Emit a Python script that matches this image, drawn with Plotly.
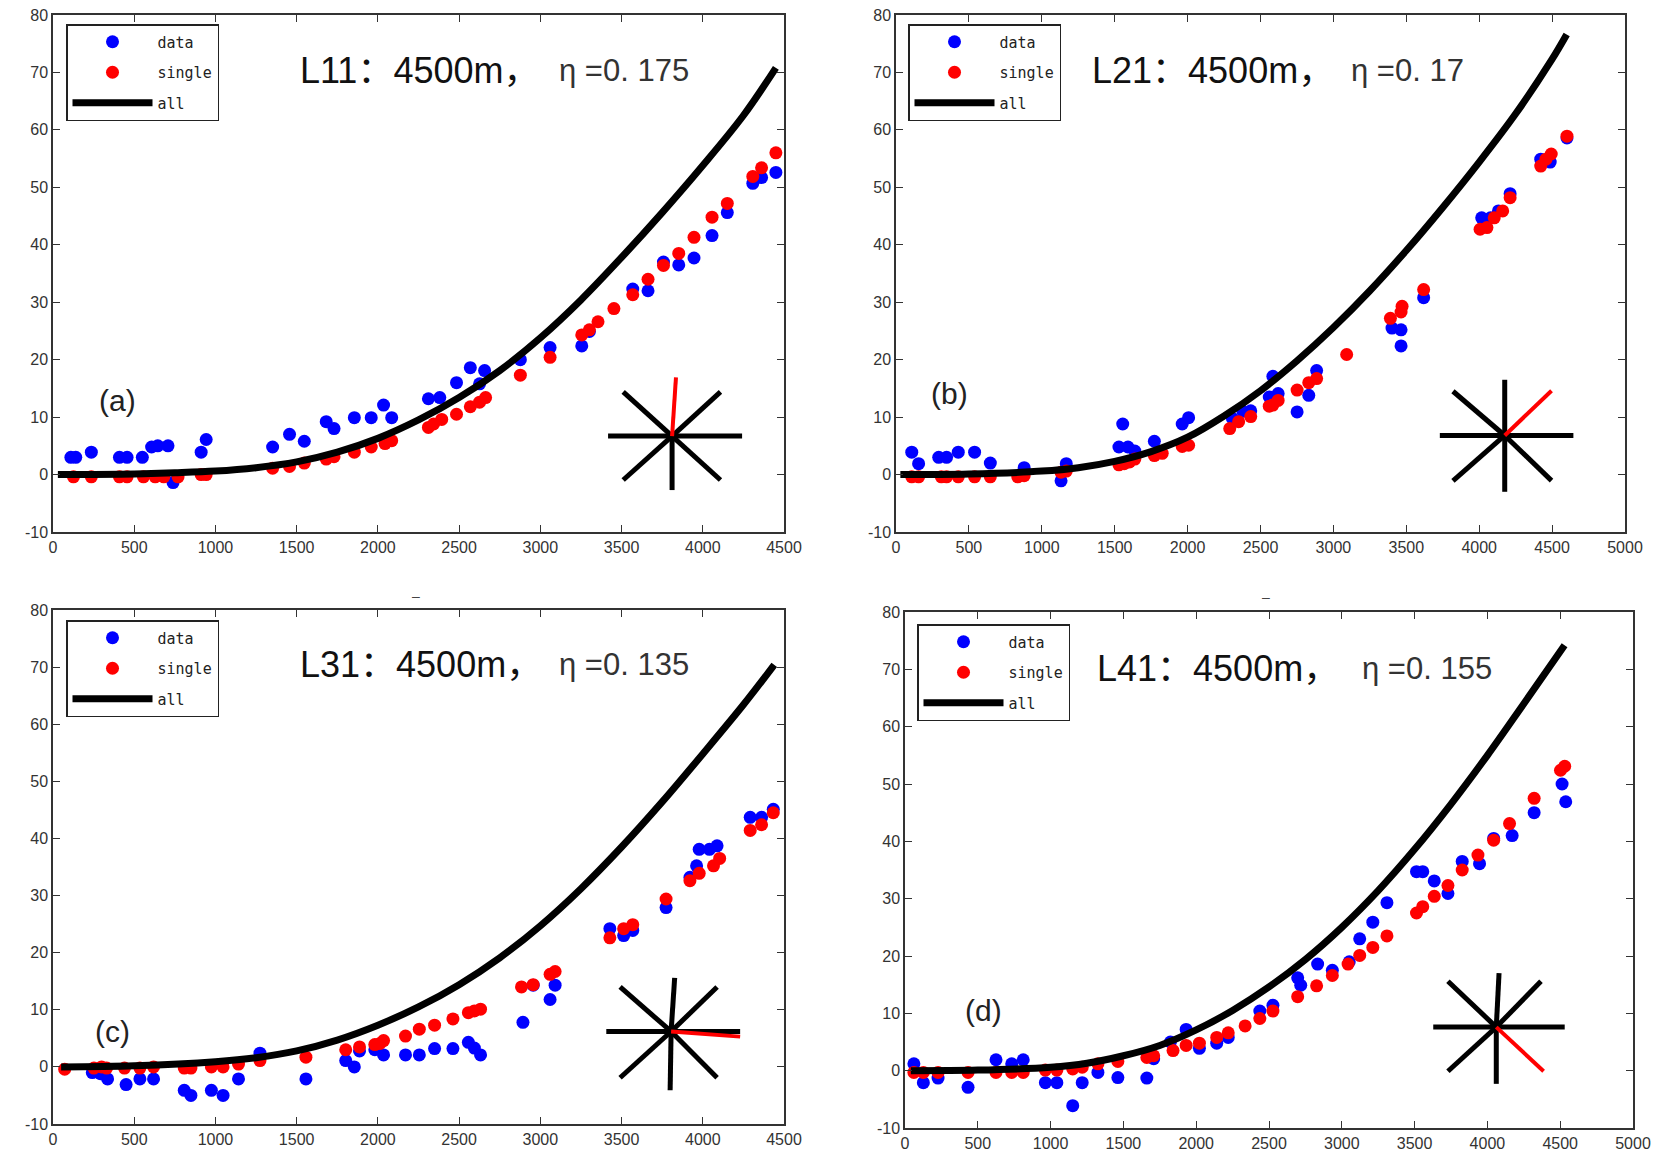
import plotly.graph_objects as go

W, H = 1667, 1158

# ---------------- data ----------------
# Panel (a) L11
a_data_x = [110, 140, 236, 409, 456, 550, 607, 645, 708, 739, 912, 943, 1352, 1456, 1547, 1682, 1730, 1855, 1959, 2035, 2085,
            2311, 2381, 2484, 2569, 2626, 2657, 2877, 3060, 3255, 3302, 3569, 3663, 3758, 3852, 3946, 4057, 4151, 4308, 4362, 4450]
a_data_y = [3.0, 3.0, 3.9, 3.0, 3.0, 3.0, 4.8, 5.0, 5.0, -1.4, 3.9, 6.1, 4.8, 7.0, 5.8, 9.2, 8.0, 9.9, 9.9, 12.1, 9.9,
            13.2, 13.4, 16.0, 18.6, 15.8, 18.1, 20.0, 22.1, 22.4, 24.9, 32.3, 32.0, 37.0, 36.5, 37.7, 41.6, 45.6, 50.7, 51.7, 52.6]
a_single_x = [126, 236, 409, 456, 557, 629, 682, 770, 912, 943, 1352, 1456, 1547, 1682, 1730, 1855, 1959, 2044, 2085, 2311, 2343,
              2393, 2484, 2569, 2626, 2663, 2877, 3060, 3255, 3302, 3355, 3453, 3569, 3663, 3758, 3852, 3946, 4057, 4151, 4308, 4362, 4450]
a_single_y = [-0.4, -0.4, -0.4, -0.4, -0.4, -0.4, -0.4, -0.4, 0.0, 0.0, 1.1, 1.4, 2.0, 2.7, 3.1, 3.9, 4.8, 5.4, 5.9, 8.2, 8.8,
              9.6, 10.5, 11.8, 12.6, 13.4, 17.3, 20.4, 24.3, 25.2, 26.6, 28.9, 31.3, 34.0, 36.4, 38.5, 41.3, 44.8, 47.2, 51.9, 53.4, 56.0]
a_all_x = [30, 250, 500, 750, 1000, 1250, 1500, 1750, 2000, 2250, 2500, 2750, 3000, 3250, 3500, 3750, 4000, 4250, 4450]
a_all_y = [0, 0, 0.1, 0.3, 0.6, 1.2, 2.2, 3.9, 6.3, 9.5, 13.4, 18.1, 23.8, 30.4, 37.8, 45.6, 53.8, 62.5, 70.8]

# Panel (b) L21
b_data_x = [108, 155, 293, 347, 427, 539, 647, 879, 1132, 1168, 1529, 1555, 1591, 1638, 1772, 1963, 2007, 2307, 2379, 2433,
            2560, 2585, 2621, 2751, 2831, 2885, 3402, 3464, 3464, 3619, 4017, 4078, 4132, 4212, 4422, 4487, 4602]
b_data_y = [3.9, 1.9, 3.0, 3.0, 3.9, 3.9, 2.0, 1.2, -1.1, 1.9, 4.8, 8.8, 4.8, 4.1, 5.8, 8.8, 9.9, 9.8, 11.0, 11.1,
            13.5, 17.1, 14.1, 10.9, 13.8, 18.1, 25.5, 25.2, 22.4, 30.8, 44.7, 44.7, 45.9, 48.9, 54.9, 54.4, 58.6]
b_single_x = [108, 155, 311, 347, 427, 539, 647, 835, 879, 1132, 1168, 1529, 1565, 1602, 1638, 1772, 1826, 1963, 2007, 2289,
              2350, 2433, 2560, 2585, 2621, 2751, 2831, 2885, 3091, 3391, 3464, 3471, 3619, 4006, 4053, 4103, 4161, 4212,
              4422, 4458, 4494, 4602]
b_single_y = [-0.4, -0.4, -0.4, -0.4, -0.4, -0.4, -0.4, -0.4, -0.2, 0.4, 0.6, 1.7, 1.9, 2.2, 2.7, 3.3, 3.7, 4.9, 5.1, 8.0,
              9.2, 10.1, 11.9, 12.1, 12.9, 14.7, 16.0, 16.7, 20.9, 27.2, 28.3, 29.3, 32.2, 42.7, 43.0, 44.7, 45.9, 48.2,
              53.7, 54.9, 55.8, 58.9]
b_all_x = [30, 500, 1000, 1250, 1500, 1750, 2000, 2250, 2500, 2750, 3000, 3250, 3500, 3750, 4000, 4250, 4500, 4600]
b_all_y = [0, 0.1, 0.6, 1.2, 2.3, 4.0, 6.5, 10.2, 14.6, 19.8, 25.6, 32.0, 39.0, 46.5, 54.4, 62.8, 72.3, 76.6]

# Panel (c) L31
c_data_x = [242, 292, 336, 450, 535, 619, 808, 849, 975, 1047, 1142, 1274, 1557, 1802, 1855, 1887, 1981, 2035, 2170, 2255,
            2349, 2462, 2557, 2594, 2632, 2893, 2956, 3060, 3091, 3428, 3513, 3569, 3774, 3921, 3962, 3978, 4041, 4088,
            4292, 4362, 4434]
c_data_y = [-1.0, -1.2, -2.1, -3.1, -2.1, -2.1, -4.1, -5.0, -4.1, -5.0, -2.1, 2.4, -2.1, 1.1, 0.0, 2.8, 3.0, 2.1, 2.1, 2.1,
            3.2, 3.2, 4.3, 3.3, 2.1, 7.8, 14.3, 11.8, 14.3, 24.2, 23.0, 23.9, 27.9, 33.2, 35.2, 38.1, 38.1, 38.7,
            43.7, 43.7, 45.1]
c_single_x = [72, 252, 299, 330, 440, 535, 619, 808, 849, 975, 1047, 1142, 1274, 1557, 1802, 1887, 1981, 2013, 2035, 2170,
              2255, 2349, 2462, 2557, 2594, 2632, 2884, 2956, 3060, 3091, 3428, 3513, 3569, 3774, 3921, 3978, 4066, 4104,
              4292, 4362, 4434]
c_single_y = [-0.4, -0.2, 0.0, -0.2, -0.2, -0.2, 0.0, -0.2, -0.2, 0.0, 0.0, 0.5, 1.1, 1.7, 3.0, 3.5, 3.9, 4.1, 4.6, 5.4,
              6.6, 7.3, 8.4, 9.5, 9.8, 10.1, 14.0, 14.4, 16.2, 16.7, 22.6, 24.2, 24.9, 29.4, 32.6, 33.9, 35.2, 36.5,
              41.4, 42.4, 44.5]
c_all_x = [50, 500, 1000, 1250, 1500, 1750, 2000, 2250, 2500, 2750, 3000, 3250, 3500, 3750, 4000, 4250, 4440]
c_all_y = [0, 0.2, 0.9, 1.6, 2.8, 4.7, 7.3, 10.5, 14.4, 19.1, 24.7, 31.2, 38.5, 46.4, 54.8, 63.4, 70.4]

# Panel (d) L41
d_data_x = [61, 126, 227, 433, 625, 733, 812, 964, 1043, 1152, 1217, 1325, 1462, 1661, 1708, 1823, 1931, 2022, 2141, 2220,
            2437, 2527, 2697, 2718, 2834, 2935, 3051, 3123, 3213, 3310, 3513, 3556, 3635, 3729, 3827, 3946, 4043, 4170,
            4321, 4513, 4538]
d_data_y = [1.2, -2.1, -1.3, -2.9, 1.9, 1.2, 1.9, -2.1, -2.1, -6.1, -2.1, -0.3, -1.2, -1.3, 2.1, 5.0, 7.2, 3.9, 4.8, 5.8,
            10.4, 11.4, 16.2, 14.9, 18.6, 17.5, 19.0, 23.0, 25.9, 29.3, 34.7, 34.7, 33.1, 30.9, 36.5, 36.1, 40.5, 41.0,
            45.0, 50.0, 46.9]
d_single_x = [61, 126, 227, 433, 625, 733, 812, 964, 1043, 1152, 1217, 1325, 1462, 1661, 1708, 1841, 1931, 2022, 2141, 2220,
              2336, 2437, 2527, 2697, 2827, 2935, 3043, 3123, 3213, 3310, 3513, 3556, 3635, 3729, 3827, 3935, 4043, 4152,
              4321, 4502, 4531]
d_single_y = [-0.3, -0.3, -0.3, -0.3, -0.3, -0.3, -0.3, 0.1, 0.1, 0.3, 0.6, 1.2, 1.6, 2.3, 2.6, 3.5, 4.4, 4.8, 5.8, 6.6,
              7.8, 9.1, 10.4, 12.9, 14.8, 16.6, 18.6, 20.1, 21.5, 23.5, 27.5, 28.6, 30.4, 32.3, 35.0, 37.6, 40.2, 43.1,
              47.5, 52.4, 53.1]
d_all_x = [40, 500, 1000, 1250, 1500, 1750, 2000, 2250, 2500, 2750, 3000, 3250, 3500, 3750, 4000, 4250, 4530]
d_all_y = [0, 0.1, 0.6, 1.3, 2.6, 4.4, 7.1, 10.5, 14.6, 19.4, 25.0, 31.4, 38.6, 46.5, 55.0, 64.0, 74.2]

# direction stars: centre, black spoke ends, red spoke end (data units)
a_star_c = (3811, 6.7)
a_star_ends = [(4242, 6.7), (3417, 6.7), (3811, -2.7), (4109, 14.4), (3510, 14.4), (4109, -0.95), (3510, -0.95)]
a_star_red = (3835, 16.9)
b_star_c = (4175, 6.8)
b_star_ends = [(4646, 6.8), (3730, 6.8), (4175, 16.5), (4175, -3.0), (3820, 14.5), (3820, -1.1), (4496, -1.05)]
b_star_red = (4496, 14.6)
c_star_c = (3805, 6.2)
c_star_ends = [(4230, 6.2), (3406, 6.2), (3827, 15.6), (3799, -4.1), (3491, 14.0), (4088, 14.0), (3491, -1.9), (4088, -1.9)]
c_star_red = (4230, 5.3)
d_star_c = (4061, 7.6)
d_star_ends = [(4531, 7.6), (3628, 7.6), (4080, 17.0), (4061, -2.3), (3729, 15.6), (4368, 15.6), (3729, -0.1)]
d_star_red = (4386, -0.1)

titles = ["L11：4500m，", "L21：4500m，", "L31：4500m，", "L41：4500m，"]
etas = ["η =0. 175", "η =0. 17", "η =0. 135", "η =0. 155"]
labels = ["(a)", "(b)", "(c)", "(d)"]

x_ticks_45 = [0, 500, 1000, 1500, 2000, 2500, 3000, 3500, 4000, 4500]
x_ticks_50 = [0, 500, 1000, 1500, 2000, 2500, 3000, 3500, 4000, 4500, 5000]
y_ticks = [-10, 0, 10, 20, 30, 40, 50, 60, 70, 80]

# ---------------- layout geometry (pixels) ----------------
panels = [
    dict(px=(53, 784), py=(15, 532), xr=[0, 4500], xt=x_ticks_45,
         data=(a_data_x, a_data_y), single=(a_single_x, a_single_y), all=(a_all_x, a_all_y),
         star=(a_star_c, a_star_ends, a_star_red), leg=(66, 24), title=(298, 70), eta=(557, 70), lab=(117, 400), dash=None),
    dict(px=(896, 1625), py=(15, 532), xr=[0, 5000], xt=x_ticks_50,
         data=(b_data_x, b_data_y), single=(b_single_x, b_single_y), all=(b_all_x, b_all_y),
         star=(b_star_c, b_star_ends, b_star_red), leg=(908, 24), title=(1090, 70), eta=(1349, 70), lab=(949, 393), dash=None),
    dict(px=(53, 784), py=(610, 1124), xr=[0, 4500], xt=x_ticks_45,
         data=(c_data_x, c_data_y), single=(c_single_x, c_single_y), all=(c_all_x, c_all_y),
         star=(c_star_c, c_star_ends, c_star_red), leg=(66, 620), title=(298, 664), eta=(557, 664), lab=(112, 1031), dash=(416, 596)),
    dict(px=(905, 1633), py=(612, 1128), xr=[0, 5000], xt=x_ticks_50,
         data=(d_data_x, d_data_y), single=(d_single_x, d_single_y), all=(d_all_x, d_all_y),
         star=(d_star_c, d_star_ends, d_star_red), leg=(917, 624), title=(1095, 668), eta=(1360, 668), lab=(983, 1010), dash=(1266, 597)),
]

fig = go.Figure()
layout = dict(width=W, height=H, margin=dict(l=0, r=0, t=0, b=0, autoexpand=False), paper_bgcolor="white",
              plot_bgcolor="white", showlegend=True, annotations=[])

AX_COLOR = "#333333"
TICK_FONT = dict(family="Liberation Sans, Arial, sans-serif", size=16, color="#333333")

for i, p in enumerate(panels):
    n = "" if i == 0 else str(i + 1)
    xa, ya = "x" + n, "y" + n
    legname = "legend" if i == 0 else "legend" + str(i + 1)
    x0, x1 = p["px"]
    y0, y1 = p["py"]
    common = dict(showgrid=False, zeroline=False, showline=True, linecolor=AX_COLOR, linewidth=1.5,
                  mirror="ticks", ticks="inside", ticklen=7, tickwidth=1.2, tickcolor=AX_COLOR,
                  tickfont=TICK_FONT, fixedrange=True, automargin=False)
    layout["xaxis" + n] = dict(domain=[x0 / W, x1 / W], range=p["xr"], anchor=ya, tickvals=p["xt"],
                               ticktext=[str(v) for v in p["xt"]], **common)
    layout["yaxis" + n] = dict(domain=[1 - y1 / H, 1 - y0 / H], range=[-10, 80], anchor=xa, tickvals=y_ticks,
                               ticktext=[str(v) for v in y_ticks], **common)

    lx, ly = p["leg"]
    layout[legname] = dict(x=lx / W, y=1 - ly / H, xref="paper", yref="paper", xanchor="left", yanchor="top",
                           bgcolor="white", bordercolor="#222222", borderwidth=1.5,
                           font=dict(family="DejaVu Sans Mono, monospace", size=15, color="#222222"),
                           itemwidth=80, tracegroupgap=8, traceorder="grouped")

    dx, dy = p["data"]
    fig.add_trace(go.Scatter(x=dx, y=dy, mode="markers", name="data", xaxis=xa, yaxis=ya, legend=legname,
                             legendgroup=f"d{i}", marker=dict(color="#0000ff", size=13)))
    sx, sy = p["single"]
    fig.add_trace(go.Scatter(x=sx, y=sy, mode="markers", name="single", xaxis=xa, yaxis=ya, legend=legname,
                             legendgroup=f"s{i}", marker=dict(color="#ff0000", size=13)))
    ax_, ay_ = p["all"]
    fig.add_trace(go.Scatter(x=ax_, y=ay_, mode="lines", name="all", xaxis=xa, yaxis=ya, legend=legname,
                             legendgroup=f"a{i}", line=dict(color="black", width=7, shape="spline", smoothing=1.0)))

    # direction star
    (cx, cy), ends, red = p["star"]
    sxs, sys_ = [], []
    for ex, ey in ends:
        sxs += [cx, ex, None]
        sys_ += [cy, ey, None]
    fig.add_trace(go.Scatter(x=sxs, y=sys_, mode="lines", xaxis=xa, yaxis=ya, showlegend=False, hoverinfo="skip",
                             line=dict(color="black", width=5)))
    fig.add_trace(go.Scatter(x=[cx, red[0]], y=[cy, red[1]], mode="lines", xaxis=xa, yaxis=ya, showlegend=False,
                             hoverinfo="skip", line=dict(color="#ff0000", width=4)))

    tx, ty = p["title"]
    layout["annotations"].append(dict(x=tx / W, y=1 - ty / H, xref="paper", yref="paper", xanchor="left",
                                      yanchor="middle", showarrow=False, text=titles[i],
                                      font=dict(family="Liberation Sans, Noto Sans CJK SC, sans-serif", size=36,
                                                color="#111111")))
    ex_, ey_ = p["eta"]
    layout["annotations"].append(dict(x=ex_ / W, y=1 - ey_ / H, xref="paper", yref="paper", xanchor="left",
                                      yanchor="middle", showarrow=False, text=etas[i],
                                      font=dict(family="Liberation Sans, sans-serif", size=31, color="#333333")))
    lbx, lby = p["lab"]
    layout["annotations"].append(dict(x=lbx / W, y=1 - lby / H, xref="paper", yref="paper", xanchor="center",
                                      yanchor="middle", showarrow=False, text=labels[i],
                                      font=dict(family="Liberation Sans, sans-serif", size=30, color="#222222")))
    if p["dash"]:
        dsx, dsy = p["dash"]
        layout["annotations"].append(dict(x=dsx / W, y=1 - dsy / H, xref="paper", yref="paper", xanchor="center",
                                          yanchor="middle", showarrow=False, text="–",
                                          font=dict(family="Liberation Sans, sans-serif", size=14, color="#444444")))

fig.update_layout(**layout)
fig.write_html("out.html")
